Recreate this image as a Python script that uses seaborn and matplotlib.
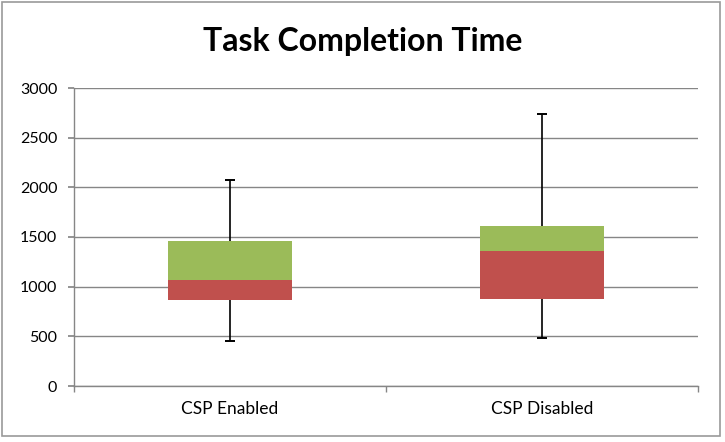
import numpy as np
import matplotlib.pyplot as plt
import pandas as pd
import seaborn as sns
from matplotlib.patches import Rectangle

# 箱线图数据（由堆积柱模拟）
groups = ["CSP Enabled", "CSP Disabled"]
lo = [453, 486]
q1 = [869, 879]
med = [1070, 1362]
q3 = [1463, 1608]
hi = [2071, 2738]

sns.set_theme(style="white")
plt.rcParams['font.family'] = ['Lato', 'DejaVu Sans']

fig = plt.figure(figsize=(7.25, 4.42), dpi=100)
ax = fig.add_axes([74 / 725, 1 - 386 / 442, (698 - 74) / 725, (386 - 88) / 442])

df = pd.DataFrame({"group": groups,
                   "lower": np.array(med) - np.array(q1),
                   "upper": np.array(q3) - np.array(med)})

sns.barplot(data=df, x="group", y="lower", order=groups, color="#C0504D",
            saturation=1, width=0.4, bottom=q1, ax=ax, zorder=2, linewidth=0)
sns.barplot(data=df, x="group", y="upper", order=groups, color="#9BBB59",
            saturation=1, width=0.4, bottom=med, ax=ax, zorder=2, linewidth=0)

xs = np.arange(len(groups))
# 须线，只在两端画横帽
ax.vlines(xs, lo, q1, color="black", linewidth=1.2, zorder=3)
ax.vlines(xs, q3, hi, color="black", linewidth=1.2, zorder=3)
ax.hlines(lo, xs - 0.015, xs + 0.015, color="black", linewidth=1.4, zorder=3)
ax.hlines(hi, xs - 0.015, xs + 0.015, color="black", linewidth=1.4, zorder=3)

ax.set_ylim(0, 3000)
ax.set_xlim(-0.5, 1.5)
ax.set_yticks(range(0, 3001, 500))
ax.yaxis.grid(True, color="#868686", linewidth=1)
ax.set_axisbelow(True)
ax.set_xlabel("")
ax.set_ylabel("")

for s in ["top", "right"]:
    ax.spines[s].set_visible(False)
for s in ["left", "bottom"]:
    ax.spines[s].set_color("#868686")
    ax.spines[s].set_linewidth(1)

ax.tick_params(axis="y", which="major", left=True, length=4, color="#868686",
               labelsize=11.5, pad=8, labelcolor="black")
ax.set_xticks([-0.5, 0.5, 1.5], minor=True)
ax.tick_params(axis="x", which="minor", bottom=True, length=4, color="#868686")
ax.tick_params(axis="x", which="major", length=0, labelsize=12.5, pad=11,
               labelcolor="black")

fig.text(0.5, 1 - 42 / 442, "Task Completion Time", ha="center", va="center",
         fontsize=23, fontweight="bold", color="black")

# 图表外框
fig.patches.append(Rectangle((2 / 725, 1 - 436 / 442), 718 / 725, 434 / 442,
                             transform=fig.transFigure, fill=False,
                             edgecolor="#9a9a9a", linewidth=1.2))

fig.savefig("out.png", dpi=100)
